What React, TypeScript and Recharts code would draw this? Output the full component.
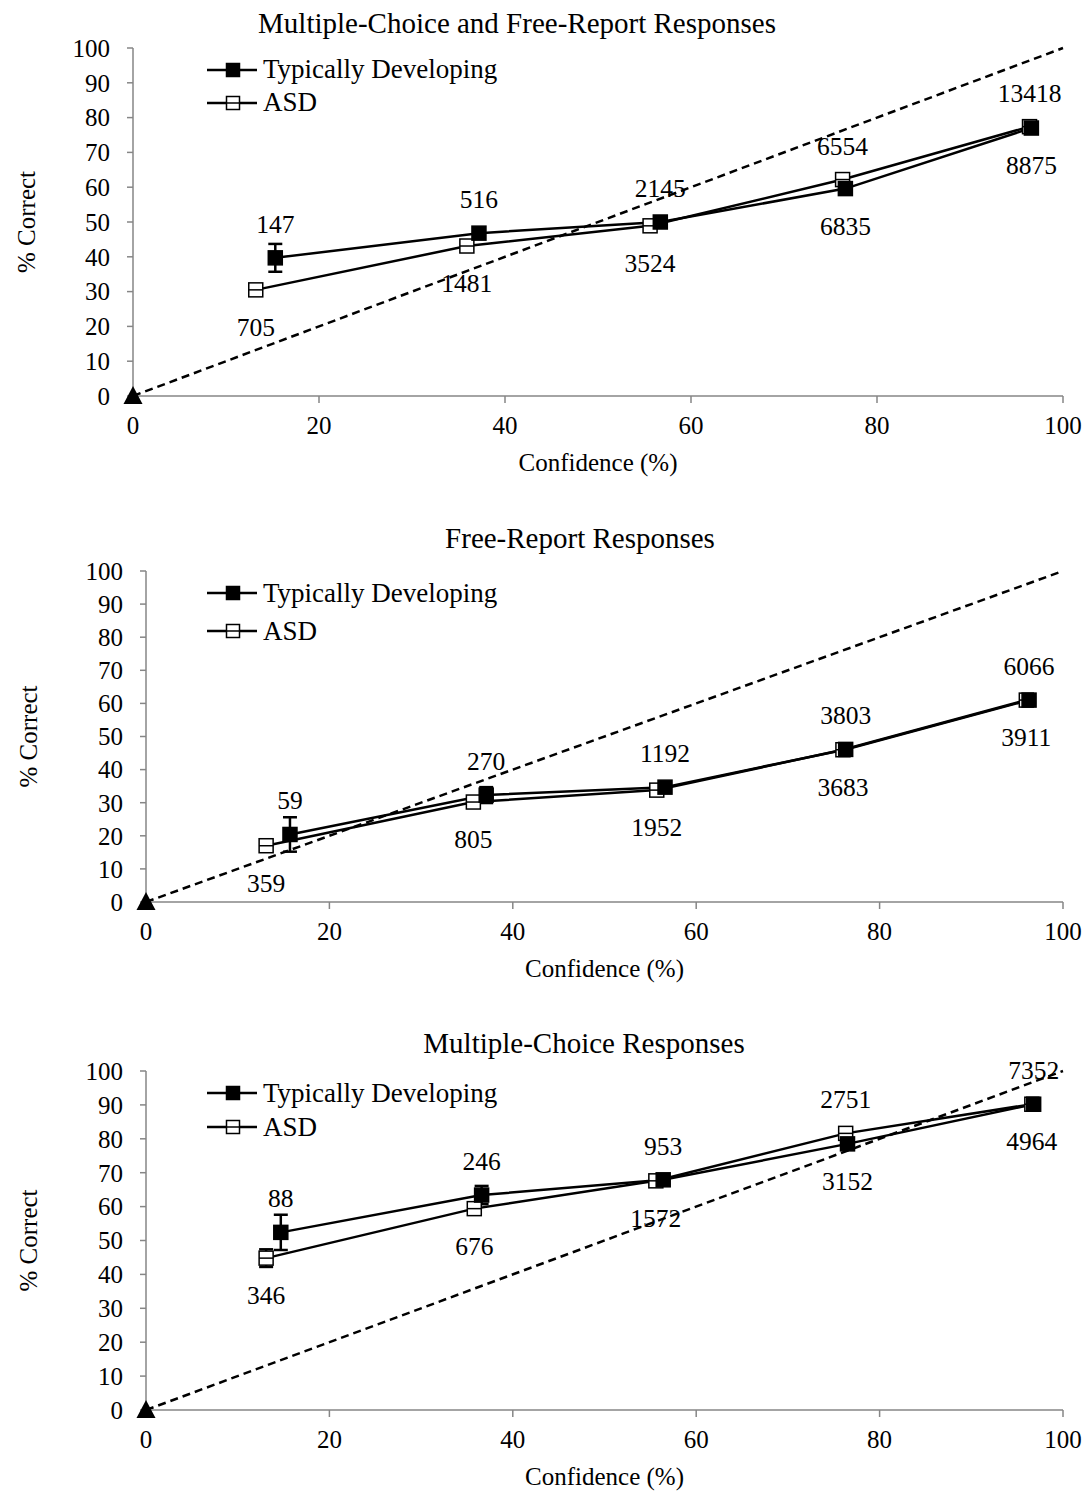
import { ComposedChart, Line, Scatter, XAxis, YAxis, ErrorBar, Legend } from 'recharts'

const FONT = '"Liberation Serif", "Times New Roman", serif'
const AXIS_GREY = '#868686'

const SERIES = ['Typically Developing', 'ASD']
const X_TICKS = [0, 20, 40, 60, 80, 100]
const Y_TICKS = [0, 10, 20, 30, 40, 50, 60, 70, 80, 90, 100]

// Multiple-Choice and Free-Report Responses
const tdConf1 = [15.3, 37.2, 56.7, 76.6, 96.6]
const tdPct1 = [39.7, 46.8, 50.0, 59.6, 77.0]
const tdErr1 = [4.0, 1.5, 1.0, 1.0, 0.7]
const asdConf1 = [13.2, 35.9, 55.6, 76.3, 96.4]
const asdPct1 = [30.5, 43.1, 48.9, 62.2, 77.4]
const asdErr1 = [1.2, 1.0, 0.8, 0.8, 0.5]
const top1 = ['147', '516', '2145', '6554', '13418']
const bottom1 = ['705', '1481', '3524', '6835', '8875']

// Free-Report Responses
const tdConf2 = [15.7, 37.1, 56.6, 76.3, 96.3]
const tdPct2 = [20.4, 32.3, 34.7, 46.1, 61.0]
const tdErr2 = [5.2, 2.4, 1.2, 1.0, 0.8]
const asdConf2 = [13.1, 35.7, 55.7, 76.0, 96.0]
const asdPct2 = [17.0, 30.2, 33.8, 46.0, 61.0]
const asdErr2 = [1.8, 1.2, 0.8, 0.7, 0.6]
const top2 = ['59', '270', '1192', '3803', '6066']
const bottom2 = ['359', '805', '1952', '3683', '3911']

// Multiple-Choice Responses
const tdConf3 = [14.7, 36.6, 56.4, 76.5, 96.8]
const tdPct3 = [52.4, 63.4, 67.9, 78.5, 90.2]
const tdErr3 = [5.2, 2.7, 1.2, 1.2, 0.6]
const asdConf3 = [13.1, 35.8, 55.6, 76.3, 96.6]
const asdPct3 = [44.8, 59.4, 67.6, 81.6, 90.2]
const asdErr3 = [2.6, 1.5, 1.0, 1.0, 0.5]
const top3 = ['88', '246', '953', '2751', '7352']
const bottom3 = ['346', '676', '1572', '3152', '4964']

const diagonal = [
  { x: 0, y: 0 },
  { x: 100, y: 100 },
]
const origin = [{ x: 0, y: 0 }]

type Pt = { x: number; y: number; err: number; above?: string; below?: string }

function buildSeries(conf: number[], pct: number[], err: number[]): Pt[] {
  return conf.map((x, i) => ({ x, y: pct[i], err: err[i] }))
}

// the count above a bin goes with whichever group sits higher there
function withLabels(td: Pt[], asd: Pt[], top: string[], bottom: string[]) {
  td.forEach((p, i) => {
    const q = asd[i]
    const tdUpper = p.y >= q.y
    ;(tdUpper ? p : q).above = top[i]
    ;(tdUpper ? q : p).below = bottom[i]
  })
  return { td, asd }
}

const panel1 = withLabels(buildSeries(tdConf1, tdPct1, tdErr1), buildSeries(asdConf1, asdPct1, asdErr1), top1, bottom1)
const panel2 = withLabels(buildSeries(tdConf2, tdPct2, tdErr2), buildSeries(asdConf2, asdPct2, asdErr2), top2, bottom2)
const panel3 = withLabels(buildSeries(tdConf3, tdPct3, tdErr3), buildSeries(asdConf3, asdPct3, asdErr3), top3, bottom3)

const makeDot = (filled: boolean) => (props: any) => {
  const { cx, cy, index, payload } = props
  if (cx == null || cy == null) return <g key={`dot-${index}`} />
  const s = 7
  return (
    <g key={`dot-${index}`}>
      <rect x={cx - s} y={cy - s} width={s * 2} height={s * 2} fill={filled ? '#000' : '#fff'} stroke="#000" strokeWidth={1.5} />
      {!filled && <line x1={cx - s} x2={cx + s} y1={cy} y2={cy} stroke="#000" strokeWidth={1.5} />}
      {payload?.above && (
        <text x={cx} y={cy - 25} textAnchor="middle" fontFamily={FONT} fontSize={25.5} fill="#000">
          {payload.above}
        </text>
      )}
      {payload?.below && (
        <text x={cx} y={cy + 46} textAnchor="middle" fontFamily={FONT} fontSize={25.5} fill="#000">
          {payload.below}
        </text>
      )}
    </g>
  )
}

const tdDot = makeDot(true)
const asdDot = makeDot(false)

const triangle = (props: any) => {
  const { cx, cy } = props
  return <polygon points={`${cx},${cy - 10} ${cx - 9.5},${cy + 8} ${cx + 9.5},${cy + 8}`} fill="#000" />
}

function LegendBox({ gap }: { gap: number }) {
  return (
    <div style={{ fontFamily: FONT, fontSize: 27, color: '#000', lineHeight: 1 }}>
      {SERIES.map((name, i) => (
        <div key={name} style={{ display: 'flex', alignItems: 'center', height: gap }}>
          <svg width={50} height={16} style={{ display: 'block' }}>
            <line x1={0} x2={50} y1={8} y2={8} stroke="#000" strokeWidth={2.5} />
            <rect x={19.5} y={1.5} width={13} height={13} fill={i === 0 ? '#000' : '#fff'} stroke="#000" strokeWidth={1.5} />
            {i === 1 && <line x1={19.5} x2={32.5} y1={8} y2={8} stroke="#000" strokeWidth={1.5} />}
          </svg>
          <span style={{ marginLeft: 6, whiteSpace: 'nowrap' }}>{name}</span>
        </div>
      ))}
    </div>
  )
}

interface PanelProps {
  title: string
  data: { td: Pt[]; asd: Pt[] }
  top: number
  height: number
  plotTop: number
  plotBottom: number
  plotLeft: number
  titleX: number
  titleY: number
  legendTop: number
  legendGap: number
  yTitleX: number
}

function Panel(p: PanelProps) {
  const xAxisHeight = 80
  const midY = (p.plotTop + p.plotBottom) / 2
  return (
    <div style={{ position: 'absolute', left: 0, top: p.top, width: 1088, height: p.height }}>
      <div
        style={{
          position: 'absolute',
          left: p.titleX,
          top: p.titleY - 16,
          transform: 'translateX(-50%)',
          fontFamily: FONT,
          fontSize: 29,
          lineHeight: '32px',
          whiteSpace: 'nowrap',
          color: '#000',
        }}
      >
        {p.title}
      </div>
      <ComposedChart
        width={1088}
        height={p.height}
        margin={{ top: p.plotTop, right: 25, left: 0, bottom: p.height - p.plotBottom - xAxisHeight }}
      >
        <XAxis
          type="number"
          dataKey="x"
          domain={[0, 100]}
          ticks={X_TICKS}
          interval={0}
          height={xAxisHeight}
          axisLine={{ stroke: AXIS_GREY, strokeWidth: 1.5 }}
          tickLine={{ stroke: AXIS_GREY, strokeWidth: 1.5 }}
          tickSize={7}
          tickMargin={13}
          tick={{ fill: '#000', fontSize: 25, fontFamily: FONT }}
          label={(props: any) => {
            const vb = props?.viewBox ?? { x: p.plotLeft, y: p.plotBottom, width: 1063 - p.plotLeft }
            return (
              <text x={vb.x + vb.width / 2} y={vb.y + 75} textAnchor="middle" fontFamily={FONT} fontSize={25} fill="#000">
                Confidence (%)
              </text>
            )
          }}
        />
        <YAxis
          type="number"
          domain={[0, 100]}
          ticks={Y_TICKS}
          interval={0}
          width={p.plotLeft}
          axisLine={{ stroke: AXIS_GREY, strokeWidth: 1.5 }}
          tickLine={{ stroke: AXIS_GREY, strokeWidth: 1.5 }}
          tickSize={6}
          tickMargin={17}
          tick={{ fill: '#000', fontSize: 25, fontFamily: FONT }}
          label={() => (
            <text
              x={p.yTitleX}
              y={midY}
              transform={`rotate(-90 ${p.yTitleX} ${midY})`}
              textAnchor="middle"
              dominantBaseline="central"
              fontFamily={FONT}
              fontSize={25}
              fill="#000"
            >
              % Correct
            </text>
          )}
        />
        <Legend
          layout="vertical"
          align="center"
          verticalAlign="middle"
          wrapperStyle={{ left: 207, top: p.legendTop, width: 330 }}
          content={() => <LegendBox gap={p.legendGap} />}
        />
        <Line
          data={diagonal}
          dataKey="y"
          stroke="#000"
          strokeWidth={2.5}
          strokeDasharray="8 5"
          dot={false}
          activeDot={false}
          legendType="none"
          isAnimationActive={false}
        />
        <Line
          data={p.data.asd}
          dataKey="y"
          name={SERIES[1]}
          stroke="#000"
          strokeWidth={2.5}
          dot={asdDot}
          activeDot={false}
          isAnimationActive={false}
        >
          <ErrorBar dataKey="err" direction="y" width={7} stroke="#000" strokeWidth={2.5} />
        </Line>
        <Line
          data={p.data.td}
          dataKey="y"
          name={SERIES[0]}
          stroke="#000"
          strokeWidth={2.5}
          dot={tdDot}
          activeDot={false}
          isAnimationActive={false}
        >
          <ErrorBar dataKey="err" direction="y" width={7} stroke="#000" strokeWidth={2.5} />
        </Line>
        <Scatter data={origin} dataKey="y" shape={triangle} legendType="none" isAnimationActive={false} />
      </ComposedChart>
    </div>
  )
}

export default function App() {
  return (
    <div style={{ position: 'absolute', left: 0, top: 0, width: 1088, height: 1494, background: '#fff' }}>
      <Panel
        title="Multiple-Choice and Free-Report Responses"
        data={panel1}
        top={0}
        height={500}
        plotTop={48}
        plotBottom={396}
        plotLeft={133}
        titleX={517}
        titleY={23}
        legendTop={53}
        legendGap={33}
        yTitleX={26}
      />
      <Panel
        title="Free-Report Responses"
        data={panel2}
        top={500}
        height={500}
        plotTop={71}
        plotBottom={402}
        plotLeft={146}
        titleX={580}
        titleY={38}
        legendTop={74}
        legendGap={38}
        yTitleX={28}
      />
      <Panel
        title="Multiple-Choice Responses"
        data={panel3}
        top={1000}
        height={494}
        plotTop={71}
        plotBottom={410}
        plotLeft={146}
        titleX={584}
        titleY={43}
        legendTop={76}
        legendGap={34}
        yTitleX={28}
      />
    </div>
  )
}
